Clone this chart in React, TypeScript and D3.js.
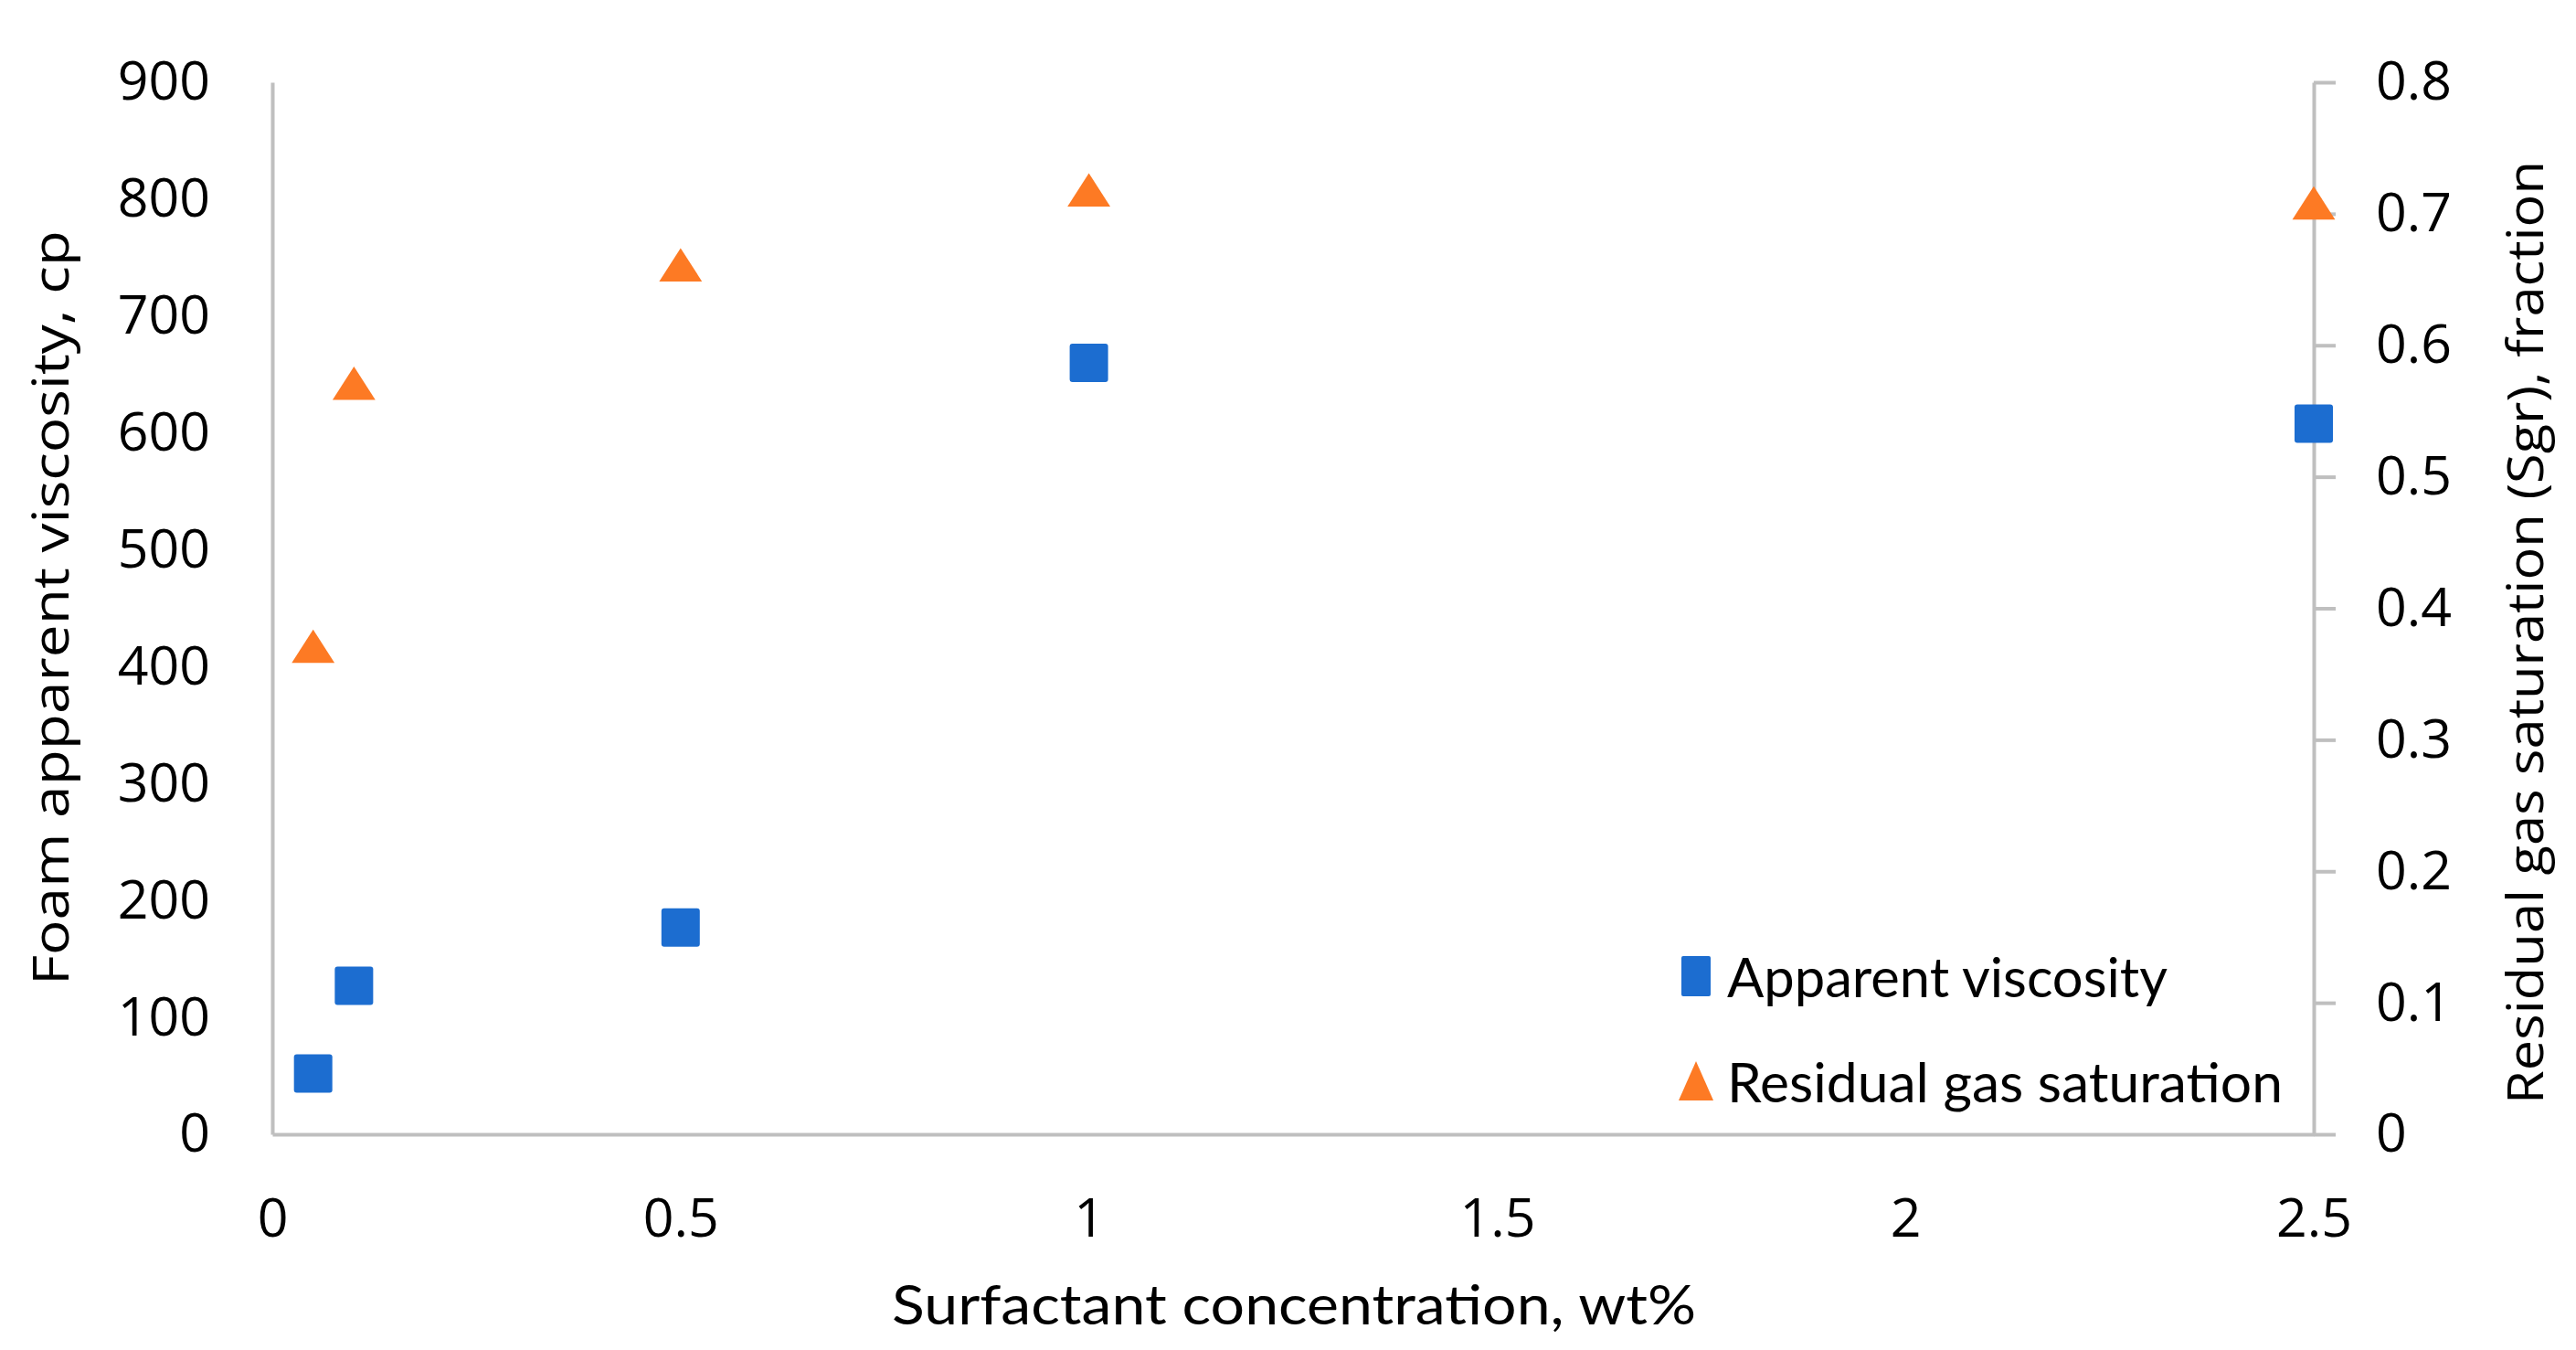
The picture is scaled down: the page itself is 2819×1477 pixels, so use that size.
import { useEffect, useRef } from 'react';
import * as d3 from 'd3';

// Surfactant concentration (wt%)
const concentrations = [0.05, 0.1, 0.5, 1, 2.5];
// Foam apparent viscosity (cp), left axis
const viscosity = [52, 127, 177, 660, 608];
// Residual gas saturation (fraction), right axis
const residualGas = [0.367, 0.567, 0.657, 0.714, 0.704];

const xTicks = [0, 0.5, 1, 1.5, 2, 2.5];
const yLeftTicks = [0, 100, 200, 300, 400, 500, 600, 700, 800, 900];
const yRightTicks = [0, 0.1, 0.2, 0.3, 0.4, 0.5, 0.6, 0.7, 0.8];

const seriesNames = ['Apparent viscosity', 'Residual gas saturation'];
const BLUE = '#1c6dd0';
const ORANGE = '#fd7a24';
const AXIS = '#bfbfbf';
const TICK_FONT = '"Open Sans", "DejaVu Sans", sans-serif';
const NARROW_FONT = 'Lato, "Liberation Sans", sans-serif';

const App = () => {
  const svgRef = useRef<SVGSVGElement>(null);
  const width = 2819;
  const height = 1477;

  useEffect(() => {
    if (!svgRef.current) return;
    document.body.style.margin = '0';
    const svg = d3.select(svgRef.current);
    svg.selectAll('*').remove();

    const margin = { top: 90, right: 287, bottom: 236, left: 298 };
    const innerWidth = width - margin.left - margin.right;
    const innerHeight = height - margin.top - margin.bottom;

    const g = svg.append('g')
      .attr('transform', `translate(${margin.left},${margin.top})`);

    const x = d3.scaleLinear().domain([0, 2.5]).range([0, innerWidth]);
    const yLeft = d3.scaleLinear().domain([0, 900]).range([innerHeight, 0]);
    const yRight = d3.scaleLinear().domain([0, 0.8]).range([innerHeight, 0]);

    const styleTicks = (sel: d3.Selection<SVGGElement, unknown, null, undefined>) => {
      sel.selectAll('text')
        .style('font-size', '59px')
        .style('font-family', TICK_FONT)
        .style('fill', '#000');
    };

    // x axis (no tick marks, just labels)
    const xAxis = g.append('g')
      .attr('transform', `translate(0,${innerHeight})`)
      .call(d3.axisBottom(x).tickValues(xTicks).tickSize(0).tickPadding(70).tickFormat(d => String(d)));
    xAxis.select('.domain').attr('stroke', AXIS).attr('stroke-width', 4);
    styleTicks(xAxis);

    // left axis (no tick marks)
    const leftAxis = g.append('g')
      .call(d3.axisLeft(yLeft).tickValues(yLeftTicks).tickSize(0).tickPadding(68).tickFormat(d => String(d)));
    leftAxis.select('.domain').attr('stroke', AXIS).attr('stroke-width', 4);
    styleTicks(leftAxis);

    // right axis with outward ticks
    const rightAxis = g.append('g')
      .attr('transform', `translate(${innerWidth},0)`)
      .call(d3.axisRight(yRight).tickValues(yRightTicks).tickSizeInner(24).tickSizeOuter(0).tickPadding(44).tickFormat(d => String(d)));
    rightAxis.select('.domain').attr('stroke', AXIS).attr('stroke-width', 4);
    rightAxis.selectAll('.tick line').attr('stroke', AXIS).attr('stroke-width', 4);
    styleTicks(rightAxis);

    // axis titles
    svg.append('text')
      .attr('transform', 'translate(54,665) rotate(-90)')
      .attr('text-anchor', 'middle')
      .attr('dominant-baseline', 'central')
      .style('font-size', '54px')
      .style('font-family', TICK_FONT)
      .attr('textLength', 826)
      .attr('lengthAdjust', 'spacingAndGlyphs')
      .text('Foam apparent viscosity, cp');

    svg.append('text')
      .attr('transform', 'translate(2762,692) rotate(-90)')
      .attr('text-anchor', 'middle')
      .attr('dominant-baseline', 'central')
      .style('font-size', '54px')
      .style('font-family', TICK_FONT)
      .attr('textLength', 1032)
      .attr('lengthAdjust', 'spacingAndGlyphs')
      .text('Residual gas saturation (Sgr), fraction');

    svg.append('text')
      .attr('x', 1416)
      .attr('y', 1426)
      .attr('text-anchor', 'middle')
      .attr('dominant-baseline', 'central')
      .style('font-size', '60px')
      .style('font-family', NARROW_FONT)
      .attr('textLength', 880)
      .attr('lengthAdjust', 'spacingAndGlyphs')
      .text('Surfactant concentration, wt%');

    // markers
    const sq = 42;
    const triangle = d3.symbol().type(d3.symbolTriangle).size(950);

    g.selectAll('.pt-visc')
      .data(concentrations.map((c, i) => ({ c, v: viscosity[i] })))
      .join('rect')
      .attr('class', 'pt-visc')
      .attr('x', d => x(d.c) - sq / 2)
      .attr('y', d => yLeft(d.v) - sq / 2)
      .attr('width', sq)
      .attr('height', sq)
      .attr('rx', 3)
      .attr('fill', BLUE);

    g.selectAll('.pt-sgr')
      .data(concentrations.map((c, i) => ({ c, v: residualGas[i] })))
      .join('path')
      .attr('class', 'pt-sgr')
      .attr('d', triangle)
      .attr('transform', d => `translate(${x(d.c)},${yRight(d.v)}) scale(1,0.9)`)
      .attr('fill', ORANGE);

    // legend
    const legend = svg.append('g').attr('transform', 'translate(1856,1068)');
    const legendColors = [BLUE, ORANGE];
    seriesNames.forEach((name, i) => {
      const row = legend.append('g').attr('transform', `translate(0,${i * 115})`);
      if (i === 0) {
        row.append('rect')
          .attr('x', -16).attr('y', -22)
          .attr('width', 32).attr('height', 44)
          .attr('rx', 2)
          .attr('fill', legendColors[i]);
      } else {
        row.append('path')
          .attr('d', 'M0,-22 L19,21 L-19,21 Z')
          .attr('fill', legendColors[i]);
      }
      row.append('text')
        .attr('x', 34)
        .attr('y', 0)
        .attr('dominant-baseline', 'central')
        .style('font-size', '60px')
        .style('font-family', NARROW_FONT)
        .attr('textLength', i === 0 ? 482 : 608)
        .attr('lengthAdjust', 'spacingAndGlyphs')
        .text(name);
    });
  }, []);

  return (
    <svg
      ref={svgRef}
      width={width}
      height={height}
      style={{ display: 'block', background: '#fff', position: 'absolute', left: 0, top: 0 }}
    />
  );
};

export default App;
